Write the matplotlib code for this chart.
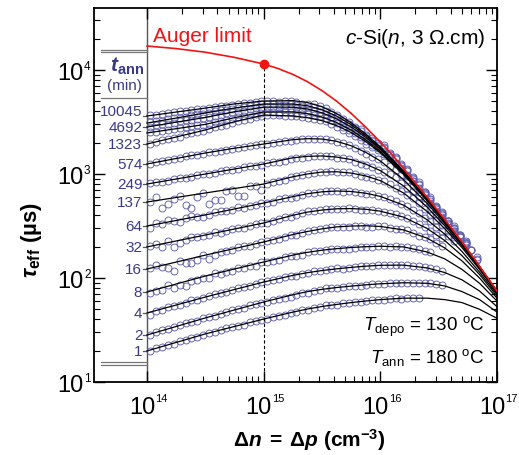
import numpy as np
import matplotlib
matplotlib.use('Agg')
import matplotlib.pyplot as plt
import matplotlib.ticker as mticker
import matplotlib.transforms as mtransforms

plt.rcParams['font.family'] = ['Liberation Sans', 'DejaVu Sans']
plt.rcParams['mathtext.fontset'] = 'custom'
plt.rcParams['mathtext.rm'] = 'Liberation Sans'
plt.rcParams['mathtext.it'] = 'Liberation Sans:italic'
plt.rcParams['mathtext.bf'] = 'Liberation Sans:bold'
plt.rcParams['mathtext.bfit'] = 'Liberation Sans:italic:bold'

# injection levels (cm^-3) where the fitted curves are read
dn_fit = [1e14, 3.16e14, 5.62e14, 1e15, 1.78e15, 2.37e15, 3.16e15, 4.22e15, 5.62e15,
          7.50e15, 1e16, 1.58e16, 2.51e16, 3.55e16, 5.01e16, 7.08e16, 1e17]

# fitted lifetimes (us), one per annealing time, top to bottom
fit_10045 = [3612, 4300, 4722, 5030, 5071, 4871, 4425, 3807, 3110, 2423, 1822, 1067, 582, 360, 219, 129, 74.7]
fit_7000 = [3090, 3860, 4310, 4710, 4710, 4536, 4144, 3603, 2977, 2341, 1775, 1051, 577, 359, 218.5, 129, 74.6]
fit_4692 = [2830, 3500, 3970, 4400, 4388, 4218, 3876, 3394, 2833, 2253, 1724, 1034, 572, 357, 218, 128.5, 74.5]
fit_2500 = [2480, 3000, 3480, 3945, 3951, 3804, 3524, 3126, 2644, 2133, 1653, 1008, 563, 354, 217, 128, 74.4]
fit_1323 = [1942, 2650, 3180, 3690, 3611, 3484, 3255, 2922, 2505, 2046, 1602, 990, 557, 351, 216, 127.7, 74.2]
fit_574 = [1248, 1592, 1770, 1942, 2139, 2186, 2169, 2061, 1868, 1615, 1335, 884, 523, 337, 211, 126, 73.7]
fit_249 = [801, 1000, 1117, 1248, 1432, 1479, 1491, 1455, 1377, 1244, 1078, 768, 482, 320, 204, 124, 73]
fit_137 = [538, 657, 725, 801, 941, 1001, 1044, 1051, 1020, 958, 863, 657, 437, 300, 196, 121, 72]
fit_64 = [316, 404, 461, 526, 606, 646, 674, 686, 679, 653, 609, 502, 364, 265, 180, 114, 69.6]
fit_32 = [199, 259, 296, 338, 401, 430, 450, 463, 465, 458, 439, 385, 300, 230, 164, 108, 67]
fit_16 = [122, 166, 192, 222, 262, 280, 297, 310, 316, 318, 313, 290, 242, 195, 146, 100, 64]
fit_8 = [73.3, 104.5, 122, 142.6, 166, 176.5, 185, 191.5, 196.5, 200, 202, 199, 178, 153, 121, 89, 60]
fit_4 = [46.1, 65.6, 77.5, 91.5, 106, 112.5, 118, 122.5, 126.5, 130, 132.5, 133, 125, 113, 96, 75, 53]
fit_2 = [28.3, 41.3, 49.3, 58.8, 69, 74, 77.8, 81, 83.6, 86, 88, 90, 89, 84, 74, 62, 47]
fit_1 = [19.9, 29, 34.2, 40.3, 47, 50.3, 53.2, 55.7, 58, 60.1, 62, 64, 64, 62, 58, 50, 41]

# measured points, two interleaved injection grids
dn_meas = [1.07e14, 1.35e14, 1.70e14, 2.14e14, 2.69e14, 3.39e14, 4.27e14, 5.37e14,
           6.76e14, 8.51e14, 1.07e15, 1.35e15, 1.70e15, 2.14e15, 2.69e15, 3.39e15,
           4.27e15, 5.37e15, 6.76e15, 8.51e15, 1.07e16, 1.35e16, 1.70e16, 2.14e16,
           2.69e16, 3.39e16, 4.27e16, 5.37e16, 6.76e16]
dn_meas_b = [1.20e14, 1.51e14, 1.91e14, 2.40e14, 3.02e14, 3.80e14, 4.79e14, 6.03e14,
             7.59e14, 9.55e14, 1.20e15, 1.51e15, 1.91e15, 2.40e15, 3.02e15, 3.80e15,
             4.79e15, 6.03e15, 7.59e15, 9.55e15, 1.20e16, 1.51e16, 1.91e16, 2.40e16,
             3.02e16, 3.80e16, 4.79e16, 6.03e16]

meas_10045 = [3700, 3760, 3950, 4020, 4250, 4300, 4540, 4580, 4830, 4880, 5080, 4960, 5020, 4760,
              4680, 4330, 3720, 3180, 2680, 2230, 1880, 1470, 1120, 830, 600, 435, 315, 228, 158]
meas_7000 = [3150, 3240, 3450, 3560, 3780, 3880, 4110, 4210, 4450, 4560, 4730, 4650, 4690, 4480,
             4380, 4060, 3520, 3050, 2580, 2140, 1820, 1420, 1090, 800, 580, 420, 305, 220, 152]
meas_4692 = [2850, 3010, 3100, 3280, 3380, 3570, 3690, 3910, 4050, 4290, 4380, 4400, 4330, 4240,
             4040, 3800, 3300, 2880, 2450, 2060, 1760, 1390, 1070, 790, 575, 415, 300, 215, 148]
meas_2500 = [2520, 2590, 2720, 2800, 2940, 3040, 3240, 3380, 3610, 3770, 3950, 3900, 3920, 3790,
             3720, 3450, 3060, 2620, 2260, 1900, 1610, 1270, 980, 735, 545, 400, 295, 215]
meas_1323 = [1960, 2120, 2230, 2400, 2520, 2720, 2870, 3100, 3280, 3540, 3660, 3660, 3590, 3530,
             3380, 3200, 2830, 2500, 2130, 1810, 1570, 1250, 960, 720, 530, 385, 285, 208]
meas_574 = [1250, 1345, 1385, 1480, 1530, 1615, 1660, 1750, 1800, 1895, 1950, 2040, 2090, 2160,
            2180, 2165, 2050, 1900, 1680, 1470, 1310, 1090, 880, 675, 510, 375, 285, 210]
meas_249 = [820, 845, 895, 920, 975, 1010, 1070, 1100, 1165, 1200, 1270, 1310, 1390, 1435,
            1480, 1500, 1420, 1400, 1250, 1165, 1040, 930, 740, 620, 465, 365, 272]
meas_137 = [540, 470, 580, 500, 600, 520, 560, 700, 620, 760, 800, 850, 930, 970,
            1020, 1050, 1040, 1035, 950, 912, 850, 735, 630, 525, 405, 320, 248]
meas_64 = [300, 330, 350, 380, 385, 400, 445, 452, 470, 508, 528, 570, 590, 632,
           655, 680, 680, 690, 650, 640, 598, 550, 495, 420, 350, 285, 228]
meas_32 = [205, 200, 199, 232, 246, 258, 272, 296, 305, 330, 340, 372, 388, 421,
           440, 458, 460, 466, 452, 449, 432, 415, 374, 334, 280, 242]
meas_16 = [126, 128, 118, 140, 150, 152, 178, 186, 204, 210, 228, 237, 258, 268,
           292, 301, 312, 311, 318, 310, 315, 296, 288, 255, 238, 204]
meas_8 = [72.0, 77.0, 79.5, 83.0, 96.0, 99.5, 109.0, 117.5, 126.0, 131.0, 143.0, 150.0, 163.0,
          167.0, 181.0, 184.0, 191.0, 191.5, 198.0, 199.0, 203.0, 201.0, 198.5, 188.0, 176.0]
meas_4 = [44.5, 49.0, 53.5, 57.4, 62.0, 66.4, 72.2, 76.0, 82.6, 87.0, 93.6, 97.4, 104.0,
          108.2, 115.6, 119.2, 123.4, 124.2, 129.0, 130.4, 134.0, 133.0, 134.2, 130.6, 125.4, 117.0]
meas_2 = [28.6, 31.5, 33.5, 36.8, 39.0, 42.6, 45.0, 49.0, 51.8, 56.4, 59.0, 63.4, 66.2,
          71.0, 74.2, 79.4, 80.2, 83.2, 84.0, 87.0, 88.0, 90.0, 90.4, 90.2, 89.4, 86.0]
meas_1 = [20.0, 21.8, 23.4, 25.6, 27.3, 29.6, 31.3, 33.8, 35.7, 38.6, 40.6, 43.5, 45.6,
          48.8, 51.2, 54.5, 55.6, 57.9, 59.0, 61.3, 62.0, 63.6, 63.8, 64.5]

meas_b_10045 = [3730, 3860, 3990, 4140, 4260, 4430, 4540, 4720, 4830, 5000, 5020, 4990, 4870, 4730,
                4470, 3970, 3390, 2860, 2380, 1970, 1600, 1240, 930, 675, 488, 352, 258, 186]
meas_b_7000 = [3210, 3360, 3490, 3680, 3810, 4010, 4150, 4340, 4490, 4660, 4700, 4650, 4600, 4410,
               4200, 3750, 3230, 2760, 2300, 1920, 1570, 1220, 915, 670, 485, 350, 258, 185]
meas_b_4692 = [2940, 3040, 3200, 3310, 3490, 3620, 3820, 3970, 4180, 4330, 4400, 4350, 4300, 4130,
               3930, 3540, 3070, 2630, 2210, 1860, 1530, 1190, 900, 660, 480, 350, 258, 184]
meas_b_2500 = [2560, 2670, 2750, 2880, 2970, 3150, 3300, 3510, 3680, 3880, 3920, 3930, 3850, 3770,
               3580, 3270, 2850, 2460, 2080, 1760, 1450, 1130, 860, 640, 475, 350, 255]
meas_b_1323 = [2030, 2190, 2290, 2470, 2600, 2810, 2970, 3210, 3390, 3630, 3670, 3610, 3580, 3440,
               3320, 3000, 2660, 2320, 1960, 1700, 1430, 1110, 850, 625, 465, 340, 250]
meas_b_574 = [1300, 1370, 1420, 1510, 1565, 1645, 1695, 1780, 1840, 1925, 1985, 2070, 2120, 2180,
              2175, 2110, 1975, 1790, 1570, 1395, 1200, 980, 775, 590, 440, 330, 248]
meas_b_249 = [835, 860, 915, 940, 1000, 1030, 1095, 1120, 1195, 1225, 1300, 1340, 1420, 1465,
              1495, 1480, 1440, 1300, 1225, 1090, 995, 825, 690, 545, 415, 320]
meas_b_137 = [600, 520, 610, 470, 660, 560, 690, 610, 770, 700, 845, 880, 960, 1000,
              1040, 1060, 1050, 990, 940, 870, 800, 680, 585, 460, 365, 282]
meas_b_64 = [335, 362, 345, 398, 390, 430, 440, 478, 488, 525, 540, 585, 602, 655,
             672, 684, 676, 672, 645, 620, 575, 515, 455, 380, 312, 252]
meas_b_32 = [210, 228, 215, 248, 252, 274, 282, 304, 314, 338, 352, 382, 400, 436,
             455, 462, 458, 463, 447, 444, 420, 398, 350, 310, 258]
meas_b_16 = [134, 125, 146, 138, 168, 165, 180, 198, 202, 222, 230, 250, 260, 283,
             296, 310, 309, 317, 312, 316, 303, 294, 270, 250, 216]
meas_b_8 = [75.5, 86.0, 85.0, 93.0, 101.0, 111.0, 114.5, 125.5, 130.0, 141.5, 147.0, 158.0,
            164.0, 176.0, 182.5, 189.5, 190.0, 196.0, 197.5, 202.0, 200.5, 200.0, 192.5, 182.0]
meas_b_4 = [48.0, 52.8, 55.6, 60.8, 64.2, 69.8, 73.6, 79.8, 84.2, 91.0, 95.0, 101.2, 105.4,
            112.4, 117.2, 121.8, 123.2, 127.0, 129.0, 132.8, 133.0, 134.0, 131.0, 128.0, 121.2]
meas_b_2 = [30.4, 32.2, 35.4, 37.6, 41.2, 43.5, 47.3, 50.0, 54.4, 57.5, 61.6, 64.4, 69.0,
            72.2, 77.3, 79.4, 82.0, 83.2, 85.8, 87.0, 89.2, 89.6, 90.3, 89.0, 87.6]
meas_b_1 = [21.2, 22.5, 24.7, 26.2, 28.6, 30.2, 32.8, 34.5, 37.4, 39.3, 42.4, 44.3, 47.4,
            49.6, 53.1, 55.0, 57.0, 58.2, 60.4, 61.5, 63.0, 63.4, 64.3]

ann_labels = ['10045', '', '4692', '', '1323', '574', '249', '137', '64', '32', '16', '8', '4', '2', '1']
fits = [fit_10045, fit_7000, fit_4692, fit_2500, fit_1323, fit_574, fit_249, fit_137,
        fit_64, fit_32, fit_16, fit_8, fit_4, fit_2, fit_1]
meas = [meas_10045, meas_7000, meas_4692, meas_2500, meas_1323, meas_574, meas_249, meas_137,
        meas_64, meas_32, meas_16, meas_8, meas_4, meas_2, meas_1]
meas_b = [meas_b_10045, meas_b_7000, meas_b_4692, meas_b_2500, meas_b_1323, meas_b_574, meas_b_249,
          meas_b_137, meas_b_64, meas_b_32, meas_b_16, meas_b_8, meas_b_4, meas_b_2, meas_b_1]

# Auger limit
dn_auger = [1e14, 1.78e14, 3.16e14, 5.62e14, 1e15, 1.33e15, 1.78e15, 2.37e15, 3.16e15,
            4.22e15, 5.62e15, 7.50e15, 1e16, 1.26e16, 1.58e16, 2.0e16, 2.51e16, 3.16e16,
            3.98e16, 5.01e16, 6.31e16, 7.94e16, 1e17]
tau_auger = [17010, 16060, 14820, 13210, 11420, 10320, 9070, 7720, 6330,
             5015, 3827, 2820, 2030, 1537, 1134, 819, 601, 434,
             311, 222, 156, 108, 75]

label_col = '#3a3a8a'
circ_col = '#5f5fab'
red = '#f01414'

fig = plt.figure(figsize=(5.19, 4.56), dpi=100)
ax = fig.add_axes([94/519, 1-383/456, 403/519, 374/456])
ax.set_xscale('log')
ax.set_yscale('log')
ax.set_xlim(3.51e13, 1e17)
ax.set_ylim(10, 3.945e4)

#measured data, then fits on top
for m, mb in zip(meas, meas_b):
    ax.plot(dn_meas[:len(m)], m, 'o', mfc='none', mec=circ_col, ms=5.0, mew=0.65, zorder=2)
    ax.plot(dn_meas_b[:len(mb)], mb, 'o', mfc='none', mec=circ_col, ms=5.0, mew=0.65, zorder=2)
for f in fits:
    ax.plot(dn_fit, f, color='k', lw=0.9, zorder=3)

ax.plot(dn_auger, tau_auger, color=red, lw=1.2, zorder=4)
ax.plot([1e15, 1e15], [10, tau_auger[4]], color='k', lw=0.8, dashes=(3, 2), zorder=3)
ax.plot(dn_auger[4], tau_auger[4], 'o', color=red, ms=6, zorder=5)

# label column on the left
trans = mtransforms.blended_transform_factory(ax.transData, ax.transAxes)
ax.axvline(1e14, color='#555555', lw=1.0, zorder=1)
for yy in (0.8885, 0.8816, 0.7602, 0.0543, 0.0463):
    ax.plot([4.03e13, 1e14], [yy, yy], transform=trans, color='#777777', lw=0.9)
for lab, f in zip(ann_labels, fits):
    if lab:
        dy = 3.5 if lab == '10045' else 0
        ax.annotate(lab, xy=(9.1e13, f[0]), xytext=(0, dy), textcoords='offset points',
                    ha='right', va='center', fontsize=11, color=label_col)
        ax.plot([9.3e13, 1e14], [f[0], f[0]], color='#555555', lw=0.9)
ax.text(0.0819, 0.8316, r'$\mathbfit{t}_{\mathbf{ann}}$', transform=ax.transAxes,
        ha='center', va='baseline', fontsize=15, color=label_col)
ax.text(0.0744, 0.794, '(min)', transform=ax.transAxes, ha='center', va='center',
        fontsize=11, color=label_col)

# texts
ax.text(0.1464, 0.9118, 'Auger limit', transform=ax.transAxes, color=red,
        fontsize=15, ha='left', va='baseline')
ax.text(0.970, 0.906, r'$\mathit{c}$-Si($\mathit{n}$, 3 Ω.cm)', transform=ax.transAxes,
        fontsize=15, ha='right', va='baseline')
ax.text(0.970, 0.139, r'$\mathit{T}_{\mathrm{depo}}$ = 130 $^{\mathrm{o}}$C', transform=ax.transAxes,
        fontsize=13.5, ha='right', va='baseline')
ax.text(0.970, 0.0535, r'$\mathit{T}_{\mathrm{ann}}$ = 180 $^{\mathrm{o}}$C', transform=ax.transAxes,
        fontsize=13.5, ha='right', va='baseline')

# ticks
ax.xaxis.set_major_locator(mticker.FixedLocator([1e14, 1e15, 1e16, 1e17]))
ax.xaxis.set_minor_locator(mticker.FixedLocator([m * 10.0**e for e in (14, 15, 16) for m in range(2, 10)]))
ax.yaxis.set_major_locator(mticker.FixedLocator([10, 100, 1e3, 1e4]))
ax.yaxis.set_minor_locator(mticker.LogLocator(subs=np.arange(2, 10), numticks=20))
ax.tick_params(which='both', direction='in', top=True, right=True,
               labelbottom=False, labelleft=False)
ax.tick_params(which='major', length=8, width=1.0)
ax.tick_params(which='minor', length=4, width=0.8)
for s in ax.spines.values():
    s.set_linewidth(1.3)

for e in [14, 15, 16, 17]:
    ax.annotate('10', xy=(10.0**e, 0), xycoords=('data', 'axes fraction'), xytext=(5.8, -22.3),
                textcoords='offset points', ha='right', va='baseline', fontsize=17, annotation_clip=False)
    ax.annotate(str(e), xy=(10.0**e, 0), xycoords=('data', 'axes fraction'), xytext=(6.1, -13.7),
                textcoords='offset points', ha='left', va='baseline', fontsize=8, annotation_clip=False)
for e in [1, 2, 3, 4]:
    ax.annotate('10', xy=(0, 10.0**e), xycoords=('axes fraction', 'data'), xytext=(-7.9, -6.5),
                textcoords='offset points', ha='right', va='baseline', fontsize=17, annotation_clip=False)
    ax.annotate(str(e), xy=(0, 10.0**e), xycoords=('axes fraction', 'data'), xytext=(-7.2, 0.4),
                textcoords='offset points', ha='left', va='baseline', fontsize=8.5, annotation_clip=False)

fig.text(309/519, 1-447/456, r'$\mathbf{Δ}\mathbfit{n}\mathbf{\;=\;Δ}\mathbfit{p}\ \mathbf{(cm^{-3})}$',
         ha='center', va='baseline', fontsize=15)
fig.text(31/519, 1-240/456, r'$\mathbfit{τ}_{\mathbf{eff}}\ \mathbf{(µs)}$', rotation=90,
         ha='center', va='center', fontsize=16)

fig.savefig('out.png', dpi=100)
